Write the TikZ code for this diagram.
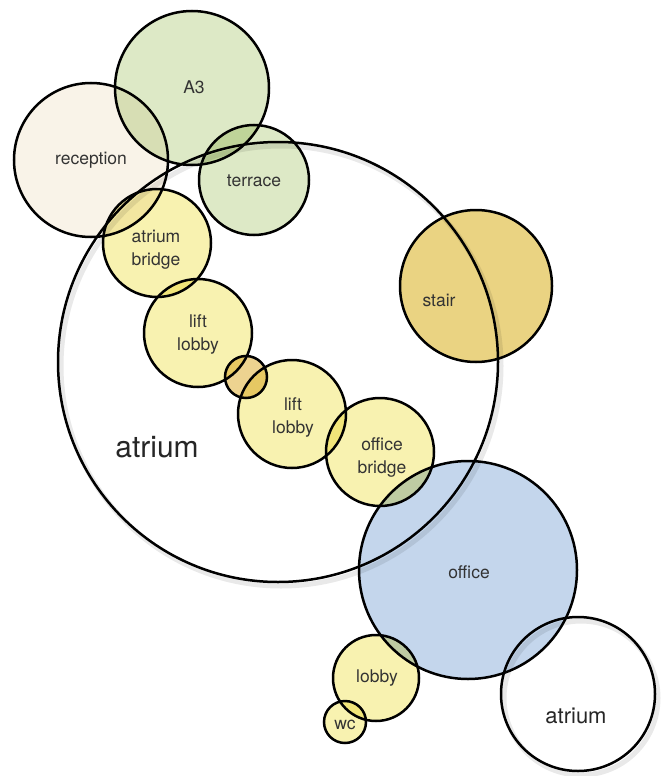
\documentclass[tikz,border=0pt]{standalone}
\usepackage{fontspec}
\setmainfont{TeX Gyre Heros}
\begin{document}
\begin{tikzpicture}[x=1pt,y=-1pt,
  ring/.style={draw=black,line width=2.5pt},
  blob/.style={blend mode=multiply},
  lbl/.style={font=\fontsize{17.5}{23}\selectfont,text=black!80,align=center},
  shadowring/.style={draw=black!25,line width=5pt,opacity=0.35}]
\useasboundingbox (0,0) rectangle (667,776);
\definecolor{cgreen}{HTML}{DDE9C6}
\definecolor{ccream}{HTML}{F9F3E8}
\definecolor{cyellow}{HTML}{F8F2B0}
\definecolor{cgold}{HTML}{EAD382}
\definecolor{cblue}{HTML}{C4D6EC}
\definecolor{corange}{HTML}{EDD390}
% shadows
\draw[shadowring] (281,366) circle (220);
\draw[shadowring] (581,698) circle (77);
% fills
\fill[blob,ccream] (91,160) circle (77);
\fill[blob,cgreen] (192,88) circle (77);
\fill[blob,cgreen] (254,180) circle (55);
\fill[blob,cgold] (476,286) circle (76);
\fill[blob,cblue] (468,570) circle (109);
\fill[blob,cyellow] (157,243) circle (54);
\fill[blob,cyellow] (198,333) circle (54);
\fill[blob,corange] (246,377) circle (21);
\fill[blob,cyellow] (292,414) circle (54);
\fill[blob,cyellow] (380,452) circle (54);
\fill[blob,cyellow] (376,678) circle (43);
\fill[blob,cyellow] (345,722) circle (21);
% outlines as named nodes
\node[ring,circle,minimum size=154pt,inner sep=0pt] (reception) at (91,160) {};
\node[ring,circle,minimum size=154pt,inner sep=0pt] (a3) at (192,88) {};
\node[ring,circle,minimum size=110pt,inner sep=0pt] (terrace) at (254,180) {};
\node[ring,circle,minimum size=152pt,inner sep=0pt] (stair) at (476,286) {};
\node[ring,circle,minimum size=218pt,inner sep=0pt] (office) at (468,570) {};
\node[ring,circle,minimum size=108pt,inner sep=0pt] (abridge) at (157,243) {};
\node[ring,circle,minimum size=108pt,inner sep=0pt] (lift1) at (198,333) {};
\node[ring,circle,minimum size=42pt,inner sep=0pt] (small) at (246,377) {};
\node[ring,circle,minimum size=108pt,inner sep=0pt] (lift2) at (292,414) {};
\node[ring,circle,minimum size=108pt,inner sep=0pt] (obridge) at (380,452) {};
\node[ring,circle,minimum size=86pt,inner sep=0pt] (lobby) at (376,678) {};
\node[ring,circle,minimum size=42pt,inner sep=0pt] (wc) at (345,722) {};
\node[ring,circle,minimum size=440pt,inner sep=0pt] (atrium) at (278,362) {};
\node[ring,circle,minimum size=154pt,inner sep=0pt] (atrium2) at (578,694) {};
% labels
\node[lbl] (treception) at (91,160) {reception};
\node[lbl] (ta3) at (194,87) {A3};
\node[lbl] (tterrace) at (254,181) {terrace};
\node[lbl] (tstair) at (439,300) {stair};
\node[lbl] (toffice) at (469,572) {office};
\node[lbl] (tabridge) at (156,250) {atrium\\bridge};
\node[lbl] (tlift1) at (198,334) {lift\\lobby};
\node[lbl] (tlift2) at (293,417) {lift\\lobby};
\node[lbl] (tobridge) at (382,457) {office\\bridge};
\node[lbl] (tlobby) at (377,678) {lobby};
\node[lbl] (twc) at (345,725) {wc};
\node[lbl,font=\fontsize{30}{32}\selectfont,text=black!85] (tatrium) at (157,447) {atrium};
\node[lbl,font=\fontsize{22}{24}\selectfont,text=black!85] (tatrium2) at (576,716) {atrium};
\end{tikzpicture}
\end{document}
